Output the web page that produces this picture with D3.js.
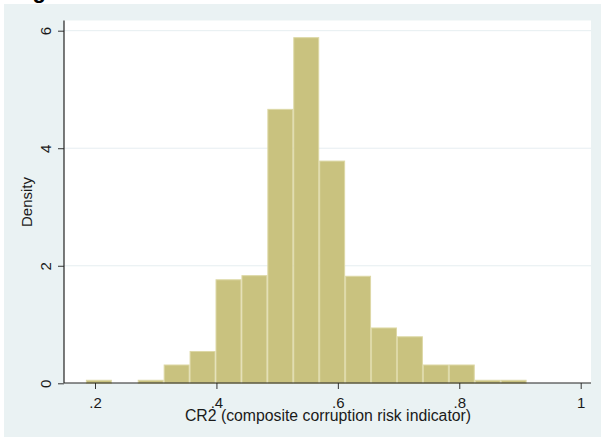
<!DOCTYPE html>
<html>
<head>
<meta charset="utf-8">
<script src="https://cdn.jsdelivr.net/npm/d3@7"></script>
<style>
  html, body { margin: 0; padding: 0; background: #ffffff; }
  svg { display: block; }
  text { font-family: Arial, "Liberation Sans", sans-serif; fill: #1a1a1a; }
</style>
</head>
<body>
<svg id="chart" width="601" height="439"></svg>
<script>
// ---- data ----
const binStart = 0.185;     // lower edge of first bin
const binWidth = 0.0427;    // histogram bin width
const densities = [0.06, 0, 0.06, 0.32, 0.55, 1.77, 1.84, 4.67, 5.89, 3.79, 1.83, 0.95, 0.80, 0.32, 0.32, 0.06, 0.06];
const xTicks = [0.2, 0.4, 0.6, 0.8, 1];
const xTickLabels = [".2", ".4", ".6", ".8", "1"];
const yTicks = [0, 2, 4, 6];
const yTickLabels = ["0", "2", "4", "6"];
const xTitle = "CR2 (composite corruption risk indicator)";
const yTitle = "Density";
const figTitle = "Figure 2";

const bins = densities.map((d, i) => ({ x0: binStart + i * binWidth, x1: binStart + (i + 1) * binWidth, d }));

const svg = d3.select("#chart");

// graph region
svg.append("rect").attr("x", 4).attr("y", 4).attr("width", 597).attr("height", 433).attr("fill", "#eaf2f3");

// cropped figure title (only descender visible)
svg.append("text").attr("x", 13).attr("y", -2).attr("font-size", 22).attr("font-weight", "bold")
  .style("fill", "#000").text(figTitle);
svg.append("rect").attr("x", 0).attr("y", 4).attr("width", 4).attr("height", 435).attr("fill", "#fff");

const plot = { left: 64, right: 591, top: 20.5, bottom: 383 };

const x = d3.scaleLinear().domain([0.2, 1]).range([95, 580.7]);
const y = d3.scaleLinear().domain([0, 6]).range([383.3, 30.7]);

// plot region
svg.append("rect").attr("x", plot.left).attr("y", plot.top)
  .attr("width", plot.right - plot.left).attr("height", plot.bottom - plot.top).attr("fill", "#ffffff");

// gridlines
svg.append("g").selectAll("line").data(yTicks.filter(t => t > 0)).join("line")
  .attr("x1", plot.left).attr("x2", plot.right)
  .attr("y1", d => y(d)).attr("y2", d => y(d))
  .attr("stroke", "#e6eef1").attr("stroke-width", 1);

// bars
svg.append("g").selectAll("rect").data(bins.filter(b => b.d > 0)).join("rect")
  .attr("x", b => x(b.x0) + 0.5)
  .attr("width", b => x(b.x1) - x(b.x0) - 1)
  .attr("y", b => y(b.d) + 0.5)
  .attr("height", b => y(0) - y(b.d) - 0.5)
  .attr("fill", "#c9c27f")
  .attr("stroke", "#ddd8a6")
  .attr("stroke-width", 1);

// x axis
const xAxis = d3.axisBottom(x).tickValues(xTicks).tickFormat((d, i) => xTickLabels[i]).tickSize(6).tickSizeOuter(0).tickPadding(3);
const gx = svg.append("g").attr("transform", `translate(0,${plot.bottom})`).call(xAxis);
gx.select(".domain").remove();
gx.selectAll(".tick line").attr("stroke", "#333");
gx.selectAll(".tick text").attr("font-size", 15).attr("font-family", null).attr("y", 25).attr("dy", null).style("fill", "#1a1a1a");
svg.append("line").attr("x1", plot.left).attr("x2", plot.right).attr("y1", plot.bottom).attr("y2", plot.bottom)
  .attr("stroke", "#222").attr("stroke-width", 1.2);

// y axis
const yAxis = d3.axisLeft(y).tickValues(yTicks).tickFormat((d, i) => yTickLabels[i]).tickSize(6).tickSizeOuter(0);
const gy = svg.append("g").attr("transform", `translate(${plot.left},0)`).call(yAxis);
gy.select(".domain").remove();
gy.selectAll(".tick line").attr("stroke", "#333");
gy.selectAll(".tick text").attr("font-size", 15).attr("font-family", null)
  .attr("x", null).attr("dy", null).attr("text-anchor", "middle")
  .attr("transform", "translate(-13.5,0) rotate(-90)").style("fill", "#1a1a1a");
svg.append("line").attr("x1", plot.left).attr("x2", plot.left).attr("y1", plot.top).attr("y2", plot.bottom)
  .attr("stroke", "#222").attr("stroke-width", 1.2);

// titles
svg.append("text").attr("x", 328).attr("y", 421).attr("text-anchor", "middle")
  .attr("font-size", 15.8).text(xTitle);
svg.append("text").attr("transform", "translate(32,202) rotate(-90)").attr("text-anchor", "middle")
  .attr("font-size", 15).text(yTitle);
</script>
</body>
</html>
